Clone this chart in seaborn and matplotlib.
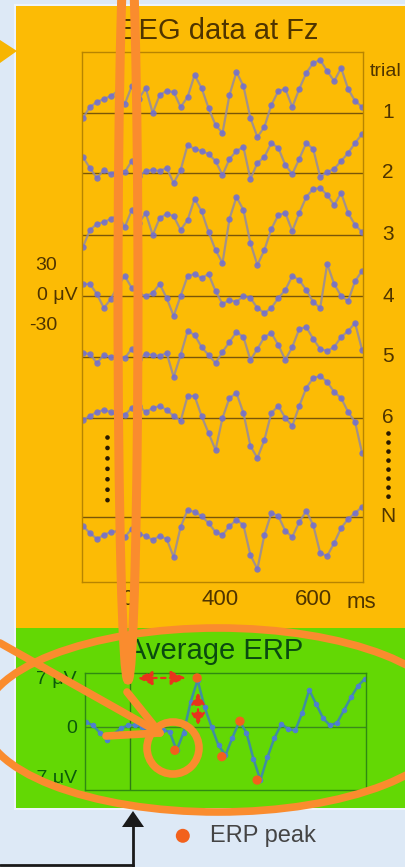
import numpy as np
import pandas as pd
import matplotlib
matplotlib.use("Agg")
import matplotlib.pyplot as plt
import matplotlib.patches as mpatches
import matplotlib.transforms as mtransforms
import seaborn as sns

# ---- data ----
# sample times (ms) shared by every trace
time_ms = np.arange(105, 706, 15)

# single-trial EEG at Fz (uV)
trial_1 = [-5, 6, 11, 14, 17, 22, 9, 27, 14, 25, 0, 18, 22, 21, 6, 16, 38, 25, 5, -12,
           -20, 18, 41, 27, -5, -24, -14, 8, 22, 24, 6, 24, 40, 50, 53, 42, 32, 45, 24, 12, 6]
trial_2 = [16, 5, -5, 3, -1, 3, 1, 12, -3, 2, 3, 2, 5, -10, 3, 28, 24, 22, 19, 12,
           -2, 14, 22, 26, -6, 10, 16, 30, 25, 8, -1, 14, 30, 24, -4, 1, 4, 12, 20, 30, 39]
trial_3 = [-12, 5, 11, 13, 16, 20, 8, 25, 12, 22, 0, 17, 21, 19, 5, 15, 36, 24, 3, -15,
           -28, 16, 38, 25, -8, -30, -15, 6, 20, 22, 4, 22, 38, 46, 47, 40, 30, 42, 22, 10, 3]
trial_4 = [12, 12, 2, -12, -3, 10, 20, 8, 2, 0, 3, 12, -2, -20, 0, 20, 22, 18, 22, 5,
           -8, -4, -6, 0, -2, -12, -17, -12, -2, 6, 20, 16, 6, -6, -12, 32, 12, 0, -5, 15, 25]
trial_5 = [4, 3, -6, 2, 0, 2, -1, 8, -2, 3, 2, 1, 4, -20, 2, 26, 22, 10, 2, -6,
           5, 15, 25, 20, -3, 8, 20, 24, 12, -3, 10, 28, 30, 18, 8, 6, 10, 20, 26, 34, 7]
trial_6 = [-2, 2, 6, 8, 6, 2, 3, 10, 12, 6, 10, 12, 8, 2, -3, 22, 22, 2, -15, -32,
           0, 20, 25, 5, -28, -40, -22, 5, 12, 0, -8, 12, 30, 40, 42, 36, 26, 20, 6, -4, -35]
trial_n = [-9, -16, -22, -18, -15, -14, -20, -12, -17, -19, -23, -19, -22, -40, -10, 7, 5, 1, -6, -15,
           -18, -9, -3, -8, -38, -52, -18, 4, 1, -14, -20, -5, 6, -8, -36, -39, -26, -11, -2, 4, 10]

trial_labels = ["1", "2", "3", "4", "5", "6", "N"]
trial_offsets = [469, 409, 347, 286, 225, 164, 65]   # stacking baseline of each trial (uV)

# average ERP (uV) and its peaks
erp_uv = [0.7, 0.2, -0.8, -1.8, -1.0, -0.2, 0.2, 0.3, 0.0, -0.6, -0.2, -0.4, -0.7, -3.3, -0.8,
          3.5, 6.6, 2.8, 0.0, -2.6, -4.0, -1.5, 0.8, -0.8, -4.5, -7.5, -4.3, -1.6, 0.4, -0.3,
          -0.5, 2.0, 5.2, 3.2, 1.2, 0.2, 0.6, 2.4, 4.2, 5.8, 6.8]
peak_ms = [296, 344, 397, 436, 473]
peak_uv = [-3.3, 6.9, -4.2, 0.8, -7.5]
onset_ms = 200

xtick_pos = [200, 400, 600]
xtick_labels = ["0", "400", "600"]

# ---- style ----
sns.set_theme(style="white")
plt.rcParams["font.family"] = ["Liberation Sans", "DejaVu Sans"]

ORANGE_PANEL = "#fcbb05"
GREEN_PANEL = "#63d804"
MARK = "#fa8c2e"
BROWN = "#4f3400"
DKGREEN = "#0a4a10"

W, H = 406, 867
fig = plt.figure(figsize=(W / 100, H / 100), dpi=100)
fig.patch.set_facecolor("#dde9f6")

def rect(l, t, w, h):
    return [l / W, 1 - (t + h) / H, w / W, h / H]

# background panels
bg = fig.add_axes([0, 0, 1, 1], zorder=0)
bg.set_xlim(0, W)
bg.set_ylim(H, 0)
bg.axis("off")
bg.add_patch(mpatches.Rectangle((14, 4), W, 806, color="#eef4fa", lw=0))
bg.add_patch(mpatches.Rectangle((16, 6), W, 622, color=ORANGE_PANEL, lw=0))
bg.add_patch(mpatches.Rectangle((16, 628), W, 180, color=GREEN_PANEL, lw=0))
bg.add_patch(mpatches.Polygon([(0, 40), (17, 51), (0, 63)], color="#f7b500", lw=0))

bg.text(219, 31, "EEG data at Fz", ha="center", va="center", fontsize=21, color=BROWN)
bg.text(215, 651, "Average ERP", ha="center", va="center", fontsize=21, color=DKGREEN)
bg.text(370, 72, "trial", ha="left", va="center", fontsize=14, color=BROWN)

# dotted "more trials" columns
bg.plot([388, 388], [433, 497], color="#2a1a00", lw=3.4, linestyle=(0, (0.01, 1.9)),
        dash_capstyle="round")
bg.plot([107, 107], [437, 502], color="#2a1a00", lw=3.4, linestyle=(0, (0.01, 2.2)),
        dash_capstyle="round")

# stimulus arrow at the bottom
bg.plot([133, 133], [825, 867], color="#1a1a1a", lw=2)
bg.plot([0, 133], [865, 865], color="#1a1a1a", lw=2)
bg.add_patch(mpatches.Polygon([(122, 827), (133, 811), (144, 827)], color="#1a1a1a", lw=0))

# ---- single trials ----
ax = fig.add_axes(rect(82, 52, 281, 530), zorder=2)
ax.set_facecolor("none")
rows = []
for lab, off, vals in zip(trial_labels, trial_offsets,
                          [trial_1, trial_2, trial_3, trial_4, trial_5, trial_6, trial_n]):
    for t, v in zip(time_ms, vals):
        rows.append({"trial": lab, "time": t, "uv": v + off})
eeg = pd.DataFrame(rows)

for off in trial_offsets:
    ax.axhline(off, color="#7a5608", lw=1, zorder=1)

sns.lineplot(data=eeg, x="time", y="uv", units="trial", estimator=None, sort=False,
             color="#958aa0", lw=1.6, marker="o", markersize=4.6,
             markerfacecolor="#6e6ed4", markeredgecolor="none", alpha=0.85, ax=ax)

ax.set_xlim(103, 707)
ax.set_ylim(0, 530)
ax.set_xlabel("")
ax.set_ylabel("")
ax.set_yticks([])
ax.set_xticks(xtick_pos)
ax.set_xticklabels(xtick_labels)
ax.tick_params(axis="x", length=0, pad=5, labelsize=16, labelcolor=BROWN)
ax.text(703, -20, "ms", ha="center", va="center", fontsize=16, color=BROWN, clip_on=False)
for s in ax.spines.values():
    s.set_color("#b88400")
    s.set_linewidth(1)

blend = mtransforms.blended_transform_factory(ax.transAxes, ax.transData)
for lab, off in zip(trial_labels, trial_offsets):
    ax.text(1.089, off, lab, transform=blend, ha="center", va="center",
            fontsize=15, color=BROWN)
# amplitude scale next to trial 4
ax.text(-0.089, trial_offsets[3] + 30, "30", transform=blend, ha="right", va="center",
        fontsize=14, color=BROWN)
ax.text(-0.014, trial_offsets[3], "0 μV", transform=blend, ha="right", va="center",
        fontsize=14, color=BROWN)
ax.text(-0.089, trial_offsets[3] - 30, "-30", transform=blend, ha="right", va="center",
        fontsize=14, color=BROWN)

# ---- average ERP ----
ax2 = fig.add_axes(rect(85, 673, 281, 117), zorder=2)
ax2.set_facecolor("none")
ax2.axhline(0, color="#3a8a1c", lw=1, zorder=1)
ax2.axvline(onset_ms, color="#2f7a14", lw=1, zorder=1)
sns.lineplot(x=time_ms, y=erp_uv, color="#3f8f9f", lw=1.8, marker="o", markersize=4,
             markerfacecolor="#4f7fd0", markeredgecolor="none", ax=ax2)
sns.scatterplot(x=peak_ms, y=peak_uv, color="#f2611c", s=45, edgecolor="none",
                zorder=5, label="ERP peak", ax=ax2)

red = "#e8341c"
ax2.annotate("", xy=(215, 6.9), xytext=(320, 6.9),
             arrowprops=dict(arrowstyle="<|-|>,head_length=0.65,head_width=0.3",
                             color=red, lw=1.6, ls=(0, (2, 2)), shrinkA=0, shrinkB=0,
                             mutation_scale=14))
ax2.annotate("", xy=(346, 4.8), xytext=(346, 0.3),
             arrowprops=dict(arrowstyle="<|-|>,head_length=0.5,head_width=0.3",
                             color=red, lw=1.6, ls=(0, (2, 2)), shrinkA=0, shrinkB=0,
                             mutation_scale=14))

ax2.set_xlim(103, 707)
ax2.set_ylim(-8.9, 7.6)
ax2.set_xticks([])
ax2.set_yticks([-7, 0, 7])
ax2.set_yticklabels(["-7 μV", "0", "7 μV"])
ax2.tick_params(axis="y", length=0, pad=6, labelsize=14, labelcolor="#0b5a0b")
ax2.set_xlabel("")
ax2.set_ylabel("")
for s in ax2.spines.values():
    s.set_color("#2f8a12")
    s.set_linewidth(1)

leg = ax2.legend(loc="center left", bbox_to_anchor=(171 / W, 1 - 836 / H),
                 bbox_transform=fig.transFigure, frameon=False, fontsize=17,
                 markerscale=1.5, handlelength=1.0, handletextpad=0.65,
                 borderpad=0, borderaxespad=0)
for txt in leg.get_texts():
    txt.set_color("#444444")

# ---- hand-drawn orange annotations ----
ov = fig.add_axes([0, 0, 1, 1], zorder=10)
ov.set_xlim(0, W)
ov.set_ylim(H, 0)
ov.axis("off")
ov.set_facecolor("none")
ov.add_patch(mpatches.Ellipse((128, 297), 20, 766, fill=False, ec=MARK, lw=6.5))
ov.add_patch(mpatches.Ellipse((218, 720), 470, 184, fill=False, ec=MARK, lw=5.5))
ov.add_patch(mpatches.Circle((173, 748), 26, fill=False, ec=MARK, lw=5.5))
ov.plot([0, 160], [643, 733], color=MARK, lw=5.5, solid_capstyle="round")
ov.plot([127, 160, 106], [692, 733, 736], color=MARK, lw=5.5,
        solid_capstyle="round", solid_joinstyle="round")

fig.savefig("out.png", dpi=100)
